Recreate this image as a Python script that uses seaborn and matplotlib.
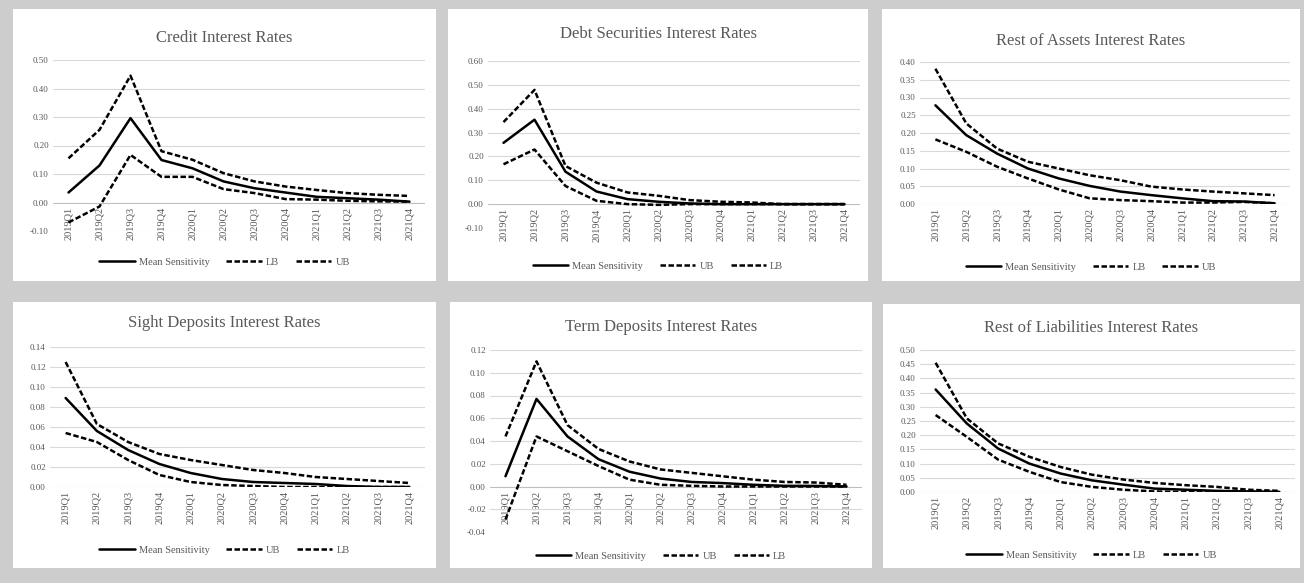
import numpy as np
import pandas as pd
import matplotlib
matplotlib.use('Agg')
import matplotlib.pyplot as plt
import seaborn as sns
from matplotlib.patches import Rectangle

sns.set_style('white')
plt.rcParams['font.family'] = ['Liberation Serif', 'DejaVu Serif']

# x categories (semi-legible in the source, quarterly periods)
periods = ['2019Q1', '2019Q2', '2019Q3', '2019Q4', '2020Q1', '2020Q2',
           '2020Q3', '2020Q4', '2021Q1', '2021Q2', '2021Q3', '2021Q4']

titles = ['Credit Interest Rates', 'Debt Securities Interest Rates', 'Rest of Assets Interest Rates',
          'Sight Deposits Interest Rates', 'Term Deposits Interest Rates', 'Rest of Liabilities Interest Rates']

credit_mean = [0.035, 0.13, 0.296, 0.149, 0.12, 0.074, 0.05, 0.035, 0.02, 0.015, 0.01, 0.003]
credit_ub = [0.155, 0.255, 0.445, 0.18, 0.15, 0.103, 0.074, 0.056, 0.044, 0.033, 0.027, 0.023]
credit_lb = [-0.07, -0.014, 0.167, 0.09, 0.09, 0.047, 0.033, 0.012, 0.01, 0.006, 0.004, 0.003]

debt_mean = [0.257, 0.354, 0.136, 0.053, 0.021, 0.01, 0.003, 0.0, 0.0, 0.0, 0.0, 0.0]
debt_ub = [0.344, 0.479, 0.16, 0.09, 0.049, 0.035, 0.017, 0.01, 0.007, 0.0, 0.0, 0.0]
debt_lb = [0.167, 0.229, 0.076, 0.014, 0.0, -0.003, 0.0, 0.0, 0.0, 0.0, 0.0, 0.0]

assets_mean = [0.278, 0.194, 0.142, 0.10, 0.072, 0.051, 0.035, 0.025, 0.016, 0.008, 0.007, 0.002]
assets_ub = [0.381, 0.227, 0.156, 0.119, 0.10, 0.081, 0.067, 0.049, 0.041, 0.035, 0.03, 0.025]
assets_lb = [0.182, 0.147, 0.105, 0.072, 0.041, 0.016, 0.011, 0.008, 0.004, 0.004, 0.006, 0.002]

sight_mean = [0.089, 0.056, 0.037, 0.023, 0.014, 0.008, 0.005, 0.004, 0.003, 0.001, 0.0, 0.0]
sight_ub = [0.125, 0.063, 0.045, 0.033, 0.027, 0.022, 0.017, 0.014, 0.01, 0.008, 0.006, 0.004]
sight_lb = [0.054, 0.045, 0.027, 0.012, 0.005, 0.002, 0.001, 0.0, 0.0, 0.0, 0.0, 0.0]

term_mean = [0.009, 0.077, 0.044, 0.024, 0.013, 0.007, 0.004, 0.003, 0.0015, 0.0006, 0.0005, 0.0]
term_ub = [0.044, 0.110, 0.054, 0.033, 0.022, 0.015, 0.012, 0.009, 0.006, 0.004, 0.0035, 0.0015]
term_lb = [-0.029, 0.044, 0.031, 0.018, 0.006, 0.0015, 0.0006, 0.0, 0.0, 0.0, 0.0, 0.0]

liab_mean = [0.361, 0.241, 0.153, 0.10, 0.065, 0.041, 0.026, 0.012, 0.008, 0.004, 0.002, 0.0]
liab_ub = [0.455, 0.259, 0.171, 0.124, 0.088, 0.061, 0.044, 0.032, 0.024, 0.018, 0.008, 0.004]
liab_lb = [0.271, 0.194, 0.114, 0.071, 0.035, 0.018, 0.008, 0.002, 0.0, 0.0, 0.0, 0.0]

panels = [
    (credit_mean, credit_lb, credit_ub, ['LB', 'UB'], (-0.10, 0.50, 0.10)),
    (debt_mean, debt_ub, debt_lb, ['UB', 'LB'], (-0.10, 0.60, 0.10)),
    (assets_mean, assets_lb, assets_ub, ['LB', 'UB'], (0.0, 0.40, 0.05)),
    (sight_mean, sight_ub, sight_lb, ['UB', 'LB'], (0.0, 0.14, 0.02)),
    (term_mean, term_ub, term_lb, ['UB', 'LB'], (-0.04, 0.12, 0.02)),
    (liab_mean, liab_lb, liab_ub, ['LB', 'UB'], (0.0, 0.50, 0.05)),
]

W, H = 1304, 583
fig = plt.figure(figsize=(W / 100, H / 100), dpi=100)
fig.patch.set_facecolor('#cdcdcd')

# white chart boxes (pixel boxes: left, top, right, bottom)
boxes = [(13, 9, 436, 281), (448, 9, 868, 281), (882, 9, 1300, 281),
         (13, 302, 436, 568), (450, 302, 872, 568), (883, 304, 1300, 568)]
# plot areas in pixels
areas = [(53, 60, 425, 231), (488, 61, 860, 228), (920, 62, 1290, 204),
         (50, 347, 425, 487), (490, 350, 862, 532), (920, 350, 1295, 492)]
title_y = [38, 34, 41, 323, 327, 328]
legend_y = [262, 266, 267, 550, 556, 555]

txt = '#595959'
grid_c = '#d9d9d9'
x = np.arange(len(periods))

for i, (mean, s2, s3, names, (lo, hi, step)) in enumerate(panels):
    l, t, r, b = boxes[i]
    fig.add_artist(Rectangle((l / W, 1 - b / H), (r - l) / W, (b - t) / H,
                             transform=fig.transFigure, facecolor='white',
                             edgecolor='none', zorder=0))
    al, at, ar, ab = areas[i]
    ax = fig.add_axes([al / W, 1 - ab / H, (ar - al) / W, (ab - at) / H])
    ax.set_facecolor('none')

    df = pd.DataFrame({'x': x, 'mean': mean, 's2': s2, 's3': s3})
    sns.lineplot(data=df, x='x', y='mean', ax=ax, color='black', lw=1.8,
                 label='Mean Sensitivity', zorder=5)
    sns.lineplot(data=df, x='x', y='s2', ax=ax, color='black', lw=1.8,
                 label=names[0], zorder=4)
    sns.lineplot(data=df, x='x', y='s3', ax=ax, color='black', lw=1.8,
                 label=names[1], zorder=4)
    ax.lines[1].set_dashes((2.2, 1.0))
    ax.lines[2].set_dashes((2.2, 1.0))

    # category labels hang from the zero line, as in the spreadsheet chart
    ax.spines['bottom'].set_position(('data', 0))
    for sp in ax.spines.values():
        sp.set_visible(False)

    yt = np.round(np.arange(lo, hi + step / 2, step), 4)
    ax.set_ylim(lo, hi)
    ax.set_yticks(yt)
    ax.set_yticklabels([f'{v:.2f}' for v in yt], fontsize=6.5, color=txt)
    for v in yt:
        ax.axhline(v, color='#bfbfbf' if v == 0 else grid_c, lw=0.8, zorder=1)
    ax.set_xlim(-0.5, len(periods) - 0.5)
    ax.set_xticks(x)
    ax.set_xticklabels(periods, rotation=90, fontsize=7.5, color=txt)
    ax.tick_params(length=0, pad=3)
    ax.set_xlabel('')
    ax.set_ylabel('')

    ax.legend_.remove()
    h, lab = ax.get_legend_handles_labels()
    cx = (l + r) / 2 / W
    fig.legend(h, lab, loc='center', bbox_to_anchor=(cx, 1 - legend_y[i] / H),
               ncol=3, frameon=False, fontsize=7.5, handlelength=3.4,
               columnspacing=1.6, handletextpad=0.4, labelcolor=txt)
    fig.text(cx, 1 - title_y[i] / H, titles[i], ha='center', va='center',
             fontsize=12, color=txt)

fig.savefig('out.png', dpi=100, facecolor=fig.get_facecolor())
